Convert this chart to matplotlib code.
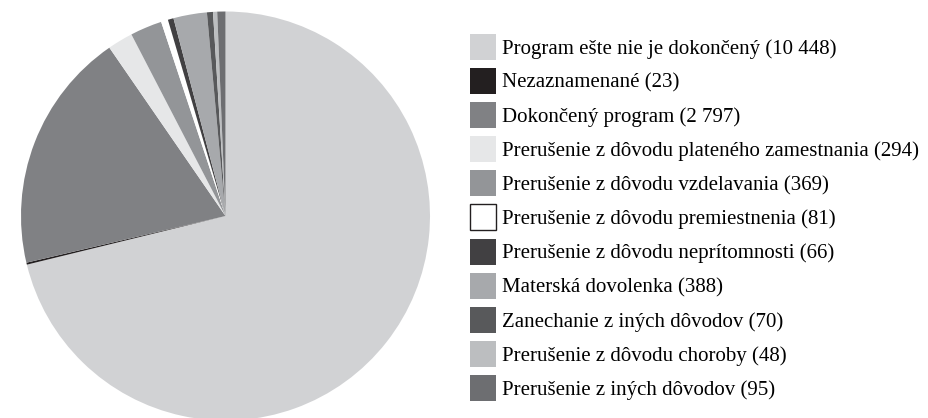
import matplotlib
matplotlib.use("Agg")
import matplotlib.pyplot as plt

labels = [
    "Program ešte nie je dokončený (10 448)",
    "Nezaznamenané (23)",
    "Dokončený program (2 797)",
    "Prerušenie z dôvodu plateného zamestnania (294)",
    "Prerušenie z dôvodu vzdelavania (369)",
    "Prerušenie z dôvodu premiestnenia (81)",
    "Prerušenie z dôvodu neprítomnosti (66)",
    "Materská dovolenka (388)",
    "Zanechanie z iných dôvodov (70)",
    "Prerušenie z dôvodu choroby (48)",
    "Prerušenie z iných dôvodov (95)",
]
values = [10448, 23, 2797, 294, 369, 81, 66, 388, 70, 48, 95]
colors = ["#d1d2d4", "#231f20", "#808184", "#e6e7e8", "#939598", "#ffffff",
          "#414042", "#a7a9ac", "#58595b", "#bcbec0", "#6d6e71"]

W, H = 929, 418
fig = plt.figure(figsize=(W / 100, H / 100), dpi=100)
cx, cy, r = 225.5, 216, 204.5
ax = fig.add_axes([(cx - r) / W, (H - cy - r) / H, 2 * r / W, 2 * r / H])
wedges, _ = ax.pie(values, colors=colors, startangle=90, counterclock=False,
                   radius=1, wedgeprops=dict(linewidth=0))
ax.set_xlim(-1, 1)
ax.set_ylim(-1, 1)
ax.axis("off")
for w in wedges:
    w.set_clip_on(False)

fs = 15
px = fs * 100 / 72
hh = 1.543
leg = fig.legend(wedges, labels, loc="upper left",
                 bbox_to_anchor=(470 / W, 1 - 34 / H),
                 frameon=False, borderpad=0, borderaxespad=0,
                 handlelength=26 / px, handleheight=hh,
                 handletextpad=6 / px,
                 labelspacing=8.1 / px,
                 prop=dict(family="Liberation Serif", size=fs))
for h in leg.legend_handles:
    h.set_linewidth(0)
leg.legend_handles[5].set_edgecolor("#231f20")
leg.legend_handles[5].set_linewidth(1.0)

fig.savefig("out.png", dpi=100)
